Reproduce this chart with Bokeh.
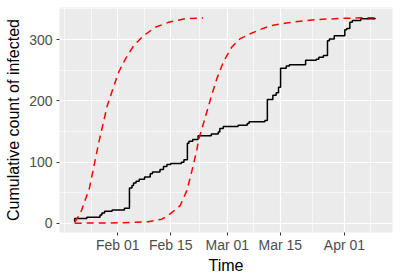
import pandas as pd
from bokeh.plotting import figure
from bokeh.models import FixedTicker, Range1d, DatetimeTickFormatter, ColumnDataSource
from bokeh.embed import file_html
from bokeh.resources import INLINE

# observed cumulative count (step line)
obs_time = ["2020-01-20 14:00", "2020-01-20 14:00", "2020-01-23 19:00", "2020-01-27 07:00",
            "2020-01-27 19:00", "2020-01-28 12:00", "2020-01-30 12:00", "2020-02-02 18:00",
            "2020-02-04 02:00", "2020-02-04 18:00", "2020-02-05 04:00", "2020-02-05 20:00",
            "2020-02-06 16:00", "2020-02-08 02:00", "2020-02-09 14:00", "2020-02-10 04:00",
            "2020-02-12 04:00", "2020-02-13 02:00", "2020-02-14 00:00", "2020-02-15 00:00",
            "2020-02-17 20:00", "2020-02-18 12:00", "2020-02-19 10:00", "2020-02-19 20:00",
            "2020-02-20 20:00", "2020-02-22 06:00", "2020-02-25 18:00", "2020-02-27 14:00",
            "2020-02-28 00:00", "2020-02-28 22:00", "2020-03-03 20:00", "2020-03-06 06:00",
            "2020-03-06 18:00", "2020-03-10 22:00", "2020-03-11 14:00", "2020-03-13 01:00",
            "2020-03-13 22:00", "2020-03-14 13:00", "2020-03-15 02:00", "2020-03-16 14:00",
            "2020-03-17 10:00", "2020-03-21 17:00", "2020-03-24 12:00", "2020-03-25 05:00",
            "2020-03-26 10:00", "2020-03-27 12:00", "2020-03-28 00:00", "2020-03-29 07:00",
            "2020-04-01 02:00", "2020-04-01 14:00", "2020-04-02 10:00", "2020-04-03 02:00",
            "2020-04-05 07:00", "2020-04-09 02:00"]
obs_count = [2, 8, 10, 14, 17, 20, 22, 25, 58, 62, 66, 69, 72, 76, 81, 84, 88, 93, 96, 98,
             100, 104, 131, 134, 137, 143, 146, 149, 155, 158, 160, 163, 166, 168, 202, 209,
             213, 222, 253, 257, 259, 266, 268, 271, 274, 298, 301, 306, 316, 318, 328, 331,
             334, 335]

# first fitted curve (red dashed)
fit1_time = ["2020-01-20 14:00", "2020-01-22 05:00", "2020-01-24 12:00", "2020-01-27 00:00",
             "2020-01-29 05:00", "2020-01-31 00:00", "2020-02-01 06:00", "2020-02-03 00:00",
             "2020-02-05 05:00", "2020-02-07 19:00", "2020-02-10 22:00", "2020-02-14 10:00",
             "2020-02-18 19:00", "2020-02-23 14:00"]
fit1_count = [2, 18, 58, 133, 192, 225, 247, 268, 290, 306, 320, 328, 334, 335]

# second fitted curve (red dashed)
fit2_time = ["2020-01-20 14:00", "2020-02-01 00:00", "2020-02-09 00:00", "2020-02-12 16:00",
             "2020-02-14 22:00", "2020-02-17 12:00", "2020-02-19 07:00", "2020-02-20 14:00",
             "2020-02-21 22:00", "2020-02-22 08:00", "2020-02-24 10:00", "2020-02-25 19:00",
             "2020-02-27 05:00", "2020-02-28 22:00", "2020-03-02 02:00", "2020-03-04 07:00",
             "2020-03-06 22:00", "2020-03-09 14:00", "2020-03-12 05:00", "2020-03-16 14:00",
             "2020-03-21 19:00", "2020-03-26 05:00", "2020-04-01 10:00", "2020-04-05 17:00",
             "2020-04-09 14:00"]
fit2_count = [0.5, 1, 3, 7, 16, 29, 54, 85, 120, 135, 179, 208, 236, 263, 287, 301, 309,
              316, 322, 327, 331, 333, 334.7, 335.3, 335.5]

tick_dates = ["2020-02-01", "2020-02-15", "2020-03-01", "2020-03-15", "2020-04-01"]
tick_labels = ["Feb 01", "Feb 15", "Mar 01", "Mar 15", "Apr 01"]
minor_dates = ["2020-01-18", "2020-01-25", "2020-02-08", "2020-02-22 12:00",
               "2020-03-08", "2020-03-23 12:00", "2020-04-08"]
y_ticks = [0, 100, 200, 300]
y_minor = [50, 150, 250, 350]


def ms(s):
    return pd.Timestamp(s).value / 1e6


p = figure(x_axis_type="datetime", output_backend="svg", toolbar_location=None,
           frame_width=333, frame_height=225,
           min_border_left=59, min_border_right=8, min_border_top=7, min_border_bottom=47,
           x_range=Range1d(ms("2020-01-16 13:40"), ms("2020-04-13 17:00")),
           y_range=Range1d(-14.7, 352.2))

p.background_fill_color = "#EBEBEB"
p.border_fill_color = "white"
p.outline_line_color = None

src_obs = ColumnDataSource(dict(t=pd.to_datetime(obs_time), c=obs_count))
src_f1 = ColumnDataSource(dict(t=pd.to_datetime(fit1_time), c=fit1_count))
src_f2 = ColumnDataSource(dict(t=pd.to_datetime(fit2_time), c=fit2_count))

p.step("t", "c", source=src_obs, mode="after", line_color="black", line_width=1.5)
p.line("t", "c", source=src_f1, line_color="#FF0000", line_width=1.5, line_dash="7 5")
p.line("t", "c", source=src_f2, line_color="#FF0000", line_width=1.5, line_dash="7 5")

xt = [ms(d) for d in tick_dates]
p.xaxis.ticker = FixedTicker(ticks=xt, minor_ticks=[ms(d) for d in minor_dates])
p.xaxis.formatter = DatetimeTickFormatter(days="%b %d", months="%b %d", years="%b %d",
                                          hours="%b %d", minutes="%b %d")
p.xaxis.major_label_overrides = {t: lab for t, lab in zip(xt, tick_labels)}
p.yaxis.ticker = FixedTicker(ticks=y_ticks, minor_ticks=y_minor)

for ax in (p.xaxis, p.yaxis):
    ax.axis_line_color = None
    ax.major_tick_line_color = "#333333"
    ax.major_tick_line_width = 1
    ax.major_tick_out = 3
    ax.major_tick_in = 0
    ax.minor_tick_line_color = None
    ax.major_label_text_font = "Liberation Sans"
    ax.major_label_text_font_size = "14px"
    ax.major_label_text_color = "#4D4D4D"
    ax.axis_label_text_font = "Liberation Sans"
    ax.axis_label_text_font_size = "16px"
    ax.axis_label_text_font_style = "normal"
    ax.axis_label_text_color = "black"

p.xaxis.major_label_standoff = 0
p.yaxis.major_label_standoff = 3
p.xaxis.axis_label = "Time"
p.yaxis.axis_label = "Cumulative count of infected"
p.xaxis.axis_label_standoff = 1
p.yaxis.axis_label_standoff = 4

for g in (p.xgrid, p.ygrid):
    g.grid_line_color = "white"
    g.grid_line_width = 1.2
    g.minor_grid_line_color = "white"
    g.minor_grid_line_width = 0.6

open("out.html", "w").write(file_html(p, INLINE))
